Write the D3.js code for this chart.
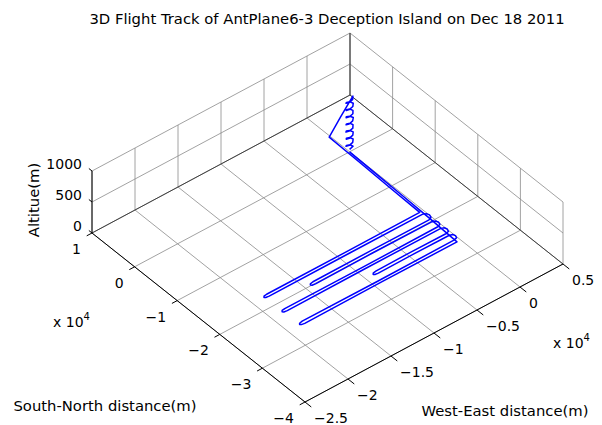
<!DOCTYPE html>
<html>
<head>
<meta charset="utf-8">
<script src="https://cdn.jsdelivr.net/npm/d3@7"></script>
<style>
  body { margin: 0; background: #fff; }
  text { font-family: "DejaVu Sans", sans-serif; font-size: 14px; fill: #000; }
  .big { font-size: 14.8px; }
</style>
</head>
<body>
<svg id="chart" width="602" height="425"></svg>
<script>
// axis limits and ticks (metres)
const xDomain = [-25000, 5000];
const yDomain = [-40000, 10000];
const zDomain = [0, 1000];
const xTicks = [-25000, -20000, -15000, -10000, -5000, 0, 5000];
const yTicks = [-40000, -30000, -20000, -10000, 0, 10000];
const zTicks = [0, 500, 1000];
const xTickLabels = ['-2.5', '-2', '-1.5', '-1', '-0.5', '0', '0.5'];
const yTickLabels = ['-4', '-3', '-2', '-1', '0', '1'];
const zTickLabels = ['0', '500', '1000'];

// flight track (x = west-east, y = south-north, z = altitude)
const trackX = [
  0, 400, 210, -190, -410, -200, 190,
  420, 200, -210, -390, -210, 210,
  410, 190, -200, -420, -190, 200,
  400, 220, -190, -400, -220, 190,
  430, 200, -210, -410, -200, 210,
  400, 190, -200, -390, -210, 200,
  420, 210, -190, -410, -200, 190,
  380, -2300, -4800,
  -4900, -5000, -5100,
  -14000, -22900, -23250, -23350, -23250, -22900, -14000, -5100, -4750, -4650, -4750, -5100,
  -12000, -18600, -18950, -19050, -18950, -18600, -12000, -5100, -4750, -4650, -4750, -5100,
  -14000, -22900, -23250, -23350, -23250, -22900, -14000, -5100, -4750, -4650, -4750, -5100,
  -9200, -13300, -13650, -13750, -13650, -13300, -9200, -5100, -4750, -4650, -4750, -5100,
  -14000, -22800, -23150, -23250, -23150, -22800, -14000, -5100,
  -3800, -2500, -1250, 0
];
const trackY = [
  0, 0, 340, 360, 10, -340, -350,
  20, 360, 340, -10, -360, -330,
  -10, 350, 370, 0, -350, -360,
  10, 350, 340, 20, -340, -340,
  0, 340, 360, -10, -360, -350,
  20, 360, 350, 0, -340, -350,
  -10, 340, 350, 10, -350, -340,
  0, -2500, -4900,
  -12000, -19500, -26750,
  -26800, -26750, -26850, -27050, -27250, -27350, -27300, -27350, -27600, -28150, -28700, -28950,
  -28900, -28950, -29050, -29250, -29450, -29550, -29500, -29550, -29750, -30300, -30800, -31000,
  -31050, -31000, -31100, -31300, -31500, -31600, -31550, -31600, -31800, -32300, -32800, -33000,
  -32950, -33000, -33100, -33300, -33500, -33600, -33550, -33600, -33800, -34250, -34700, -34900,
  -34950, -34900, -35000, -35200, -35400, -35500, -35450, -35500,
  -26600, -17700, -8900, 0
];
const trackZ = [
  40, 60, 79, 98, 118, 137, 156,
  175, 195, 214, 233, 252, 272,
  291, 310, 329, 349, 368, 387,
  406, 426, 445, 464, 483, 503,
  522, 541, 560, 580, 599, 618,
  637, 657, 676, 695, 714, 734,
  753, 772, 791, 811, 830, 849,
  870, 865, 860,
  862, 858, 860,
  862, 860, 860, 858, 860, 862, 858, 860, 860, 862, 860, 860,
  860, 862, 860, 858, 860, 860, 862, 860, 858, 860, 862, 860,
  858, 860, 862, 860, 858, 860, 860, 862, 860, 860, 858, 860,
  862, 860, 860, 858, 860, 862, 860, 860, 862, 860, 858, 860,
  860, 862, 860, 858, 860, 860, 862, 860,
  650, 430, 215, 0
];

const svg = d3.select('#chart');

// box corners on screen: front, right, left (floor), and height of z range
const F = [305, 402], R = [563, 264], L = [92, 233];
const zPx = 62;

const xs = d3.scaleLinear().domain(xDomain).range([0, 1]);
const ys = d3.scaleLinear().domain(yDomain).range([0, 1]);
const zs = d3.scaleLinear().domain(zDomain).range([0, 1]);

function proj(x, y, z) {
  const u = xs(x), v = ys(y), w = zs(z);
  return [
    F[0] + u * (R[0] - F[0]) + v * (L[0] - F[0]),
    F[1] + u * (R[1] - F[1]) + v * (L[1] - F[1]) - w * zPx
  ];
}

const gGrid = svg.append('g').attr('class', 'grid');
const gAxes = svg.append('g').attr('class', 'axes');
const gTrack = svg.append('g').attr('class', 'track');
const gText = svg.append('g').attr('class', 'labels');

function seg(g, a, b, color, w) {
  g.append('line')
    .attr('x1', a[0]).attr('y1', a[1])
    .attr('x2', b[0]).attr('y2', b[1])
    .attr('stroke', color)
    .attr('stroke-width', w);
}

const [x0, x1] = xDomain, [y0, y1] = yDomain, [z0, z1] = zDomain;
const gridColor = '#8a8a8a';

// floor grid
xTicks.forEach(x => seg(gGrid, proj(x, y0, 0), proj(x, y1, 0), gridColor, 0.8));
yTicks.forEach(y => seg(gGrid, proj(x0, y, 0), proj(x1, y, 0), gridColor, 0.8));
// back-left wall (y = max)
xTicks.forEach(x => seg(gGrid, proj(x, y1, z0), proj(x, y1, z1), gridColor, 0.8));
zTicks.slice(1).forEach(z => seg(gGrid, proj(x0, y1, z), proj(x1, y1, z), gridColor, 0.8));
// back-right wall (x = max)
yTicks.forEach(y => seg(gGrid, proj(x1, y, z0), proj(x1, y, z1), gridColor, 0.8));
zTicks.slice(1).forEach(z => seg(gGrid, proj(x1, y0, z), proj(x1, y1, z), gridColor, 0.8));

// darker back edges
seg(gGrid, proj(x0, y1, 0), proj(x1, y1, 0), '#333', 0.9);
seg(gGrid, proj(x1, y1, 0), proj(x1, y0, 0), '#333', 0.9);
seg(gGrid, proj(x1, y1, z0), proj(x1, y1, z1), '#333', 0.9);

// axis lines
seg(gAxes, proj(x0, y0, 0), proj(x1, y0, 0), '#000', 1);
seg(gAxes, proj(x0, y1, 0), proj(x0, y0, 0), '#000', 1);
seg(gAxes, proj(x0, y1, z0), proj(x0, y1, z1), '#000', 1);

// tick marks
function unit(a, b) {
  const dx = b[0] - a[0], dy = b[1] - a[1], l = Math.hypot(dx, dy);
  return [dx / l, dy / l];
}
const dirY = unit(F, L);   // towards +y
const dirX = unit(F, R);   // towards +x
xTicks.forEach(x => {
  const p = proj(x, y0, 0);
  seg(gAxes, p, [p[0] - dirY[0] * 8, p[1] - dirY[1] * 8], '#000', 1);
});
yTicks.forEach(y => {
  const p = proj(x0, y, 0);
  seg(gAxes, p, [p[0] - dirX[0] * 6, p[1] - dirX[1] * 6], '#000', 1);
});
zTicks.forEach(z => {
  const p = proj(x0, y1, z);
  seg(gAxes, p, [p[0] + dirY[0] * 4, p[1] + dirY[1] * 4], '#000', 1);
});

// the track
const line = d3.line()
  .x(i => proj(trackX[i], trackY[i], trackZ[i])[0])
  .y(i => proj(trackX[i], trackY[i], trackZ[i])[1]);

gTrack.append('path')
  .attr('d', line(d3.range(trackX.length)))
  .attr('fill', 'none')
  .attr('stroke', '#0000ff')
  .attr('stroke-width', 1.5)
  .attr('stroke-linejoin', 'round');

// tick labels
xTicks.forEach((x, i) => {
  const p = proj(x, y0, 0);
  gText.append('text')
    .attr('x', p[0] + 9).attr('y', p[1] + 16)
    .attr('dominant-baseline', 'central')
    .attr('text-anchor', 'start')
    .text(xTickLabels[i].replace('-', '\u2212'));
});
yTicks.forEach((y, i) => {
  const p = proj(x0, y, 0);
  gText.append('text')
    .attr('x', p[0] - 11).attr('y', p[1] + 16)
    .attr('dominant-baseline', 'central')
    .attr('text-anchor', 'end')
    .text(yTickLabels[i].replace('-', '\u2212'));
});
zTicks.forEach((z, i) => {
  const p = proj(x0, y1, z);
  gText.append('text')
    .attr('x', p[0] - 10).attr('y', p[1] - 7)
    .attr('dominant-baseline', 'central')
    .attr('text-anchor', 'end')
    .text(zTickLabels[i]);
});

// exponent labels
function expLabel(x, y) {
  const t = gText.append('text').attr('x', x).attr('y', y);
  t.append('tspan').text('x 10');
  t.append('tspan').attr('dy', -7).style('font-size', '10px').text('4');
}
expLabel(53, 327);
expLabel(553, 348);

// axis titles
gText.append('text').attr('class', 'big')
  .attr('x', 105).attr('y', 405)
  .attr('text-anchor', 'middle').attr('dominant-baseline', 'central')
  .text('South-North distance(m)');
gText.append('text').attr('class', 'big')
  .attr('x', 505).attr('y', 410)
  .attr('text-anchor', 'middle').attr('dominant-baseline', 'central')
  .text('West-East distance(m)');
gText.append('text').attr('class', 'big')
  .attr('transform', 'translate(33,200) rotate(-90)')
  .attr('text-anchor', 'middle').attr('dominant-baseline', 'central')
  .text('Altitue(m)');

// title
gText.append('text').attr('class', 'big')
  .attr('x', 327).attr('y', 18)
  .attr('text-anchor', 'middle').attr('dominant-baseline', 'central')
  .text('3D Flight Track of AntPlane6-3 Deception Island on Dec 18 2011');
</script>
</body>
</html>
